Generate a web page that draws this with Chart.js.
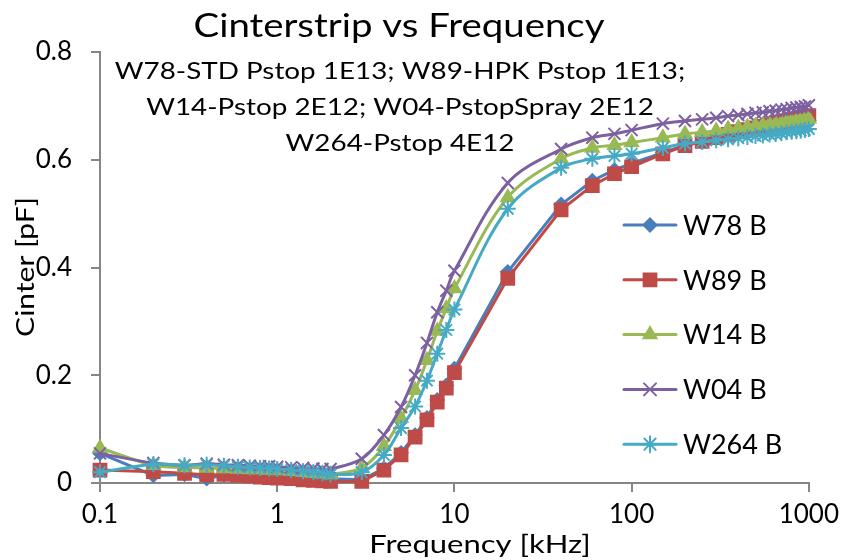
<!DOCTYPE html>
<html>
<head>
<meta charset="utf-8">
<script src="https://cdnjs.cloudflare.com/ajax/libs/Chart.js/4.4.1/chart.umd.js"></script>
<style>
	html, body { margin: 0; padding: 0; background: #fff; }
</style>
</head>
<body>
<canvas id="chart" width="846" height="560"></canvas>
<script>
const FONT = "Lato, 'Open Sans', sans-serif";

// frequency points (kHz)
const freqs = [
	0.1, 0.2, 0.3, 0.4, 0.5, 0.6, 0.7, 0.8, 0.9, 1,
	1.2, 1.4, 1.6, 1.8, 2, 3, 4, 5, 6, 7, 8, 9, 10,
	20, 40, 60, 80, 100, 150, 200, 250, 300, 350, 400, 450, 500,
	550, 600, 650, 700, 750, 800, 850, 900, 950, 1000,
];

// Cinter [pF] per sample
const w78 = [
	0.055, 0.014, 0.016, 0.008, 0.015, 0.014, 0.013, 0.013, 0.012, 0.012,
	0.011, 0.010, 0.009, 0.008, 0.008, 0.006, 0.027, 0.056, 0.089, 0.121, 0.154, 0.181, 0.212,
	0.392, 0.517, 0.561, 0.581, 0.593, 0.613, 0.627, 0.634, 0.640, 0.645, 0.649, 0.652, 0.655,
	0.657, 0.659, 0.661, 0.663, 0.665, 0.667, 0.668, 0.670, 0.671, 0.673,
];
const w89 = [
	0.024, 0.021, 0.018, 0.015, 0.016, 0.014, 0.013, 0.011, 0.010, 0.009,
	0.008, 0.006, 0.005, 0.004, 0.003, 0.003, 0.024, 0.052, 0.085, 0.117, 0.150, 0.176, 0.205,
	0.380, 0.507, 0.552, 0.574, 0.587, 0.611, 0.626, 0.634, 0.641, 0.647, 0.652, 0.656, 0.659,
	0.662, 0.665, 0.668, 0.670, 0.672, 0.674, 0.676, 0.678, 0.680, 0.682,
];
const w14 = [
	0.065, 0.033, 0.029, 0.028, 0.027, 0.026, 0.025, 0.025, 0.024, 0.023,
	0.022, 0.020, 0.018, 0.017, 0.016, 0.028, 0.068, 0.120, 0.172, 0.228, 0.282, 0.324, 0.361,
	0.530, 0.602, 0.622, 0.627, 0.632, 0.641, 0.648, 0.651, 0.654, 0.657, 0.659, 0.661, 0.663,
	0.664, 0.666, 0.667, 0.668, 0.670, 0.671, 0.672, 0.673, 0.674, 0.676,
];
const w04 = [
	0.055, 0.037, 0.033, 0.036, 0.034, 0.033, 0.032, 0.031, 0.031, 0.030,
	0.029, 0.028, 0.027, 0.026, 0.026, 0.045, 0.089, 0.141, 0.200, 0.260, 0.317, 0.357, 0.394,
	0.557, 0.620, 0.641, 0.648, 0.655, 0.667, 0.672, 0.675, 0.678, 0.681, 0.683, 0.685, 0.687,
	0.688, 0.690, 0.691, 0.693, 0.694, 0.696, 0.697, 0.698, 0.699, 0.701,
];
const w264 = [
	0.020, 0.035, 0.033, 0.034, 0.032, 0.030, 0.029, 0.028, 0.027, 0.026,
	0.024, 0.022, 0.020, 0.018, 0.016, 0.020, 0.052, 0.102, 0.142, 0.190, 0.240, 0.284, 0.322,
	0.509, 0.585, 0.602, 0.607, 0.611, 0.622, 0.630, 0.633, 0.636, 0.638, 0.640, 0.642, 0.644,
	0.645, 0.647, 0.648, 0.649, 0.651, 0.652, 0.653, 0.654, 0.655, 0.657,
];

const seriesNames = ["W78 B", "W89 B", "W14 B", "W04 B", "W264 B"];
const seriesValues = [w78, w89, w14, w04, w264];
const seriesColors = ["#4A7EBB", "#BE4B48", "#98B954", "#7D60A0", "#46AAC5"];

const xTicks = [0.1, 1, 10, 100, 1000];
const yTicks = [0, 0.2, 0.4, 0.6, 0.8];

const chartTitle = "Cinterstrip vs Frequency";
const noteLines = [
	"W78-STD Pstop 1E13; W89-HPK Pstop 1E13;",
	"W14-Pstop 2E12; W04-PstopSpray 2E12",
	"W264-Pstop 4E12",
];
const xTitle = "Frequency [kHz]";
const yTitle = "Cinter [pF]";

// marker looks, in series order
const markerStyle = ["rectRot", "rect", "triangle", "crossRot", "star"];
const markerRadius = [6.5, 9, 7.5, 8.5, 8];
const smooth = [0, 0, 0.35, 0.35, 0.35];

const AXIS_GREY = "#868686";

const datasets = seriesNames.map((name, i) => ({
	label: name,
	data: freqs.map((f, j) => ({ x: f, y: seriesValues[i][j] })),
	borderColor: seriesColors[i],
	backgroundColor: seriesColors[i],
	borderWidth: 3,
	pointStyle: markerStyle[i],
	pointRadius: markerRadius[i],
	pointBorderWidth: 2,
	tension: smooth[i],
	clip: false,
	order: seriesNames.length - i, // later series drawn on top, like the original
}));

// the original's text is a little wide for its height, so stretch it sideways
function wideText(ctx, text, x, y, size, stretch, angle) {
	ctx.save();
	ctx.translate(x, y);
	if (angle) ctx.rotate(angle);
	ctx.scale(stretch, 1);
	ctx.font = size + "px " + FONT;
	ctx.fillText(text, 0, 0);
	ctx.restore();
}

// title, note block, axis titles and legend are painted here so they sit
// exactly where the original puts them
const overlay = {
	id: "overlay",
	afterDraw(chart) {
		const ctx = chart.ctx;
		ctx.save();
		ctx.fillStyle = "#000";
		ctx.textAlign = "center";
		ctx.textBaseline = "alphabetic";

		wideText(ctx, chartTitle, 399, 37, 32, 1.2);
		noteLines.forEach((t, k) => wideText(ctx, t, 400, 79 + k * 36, 23, 1.21));
		wideText(ctx, xTitle, 480, 553, 25, 1.24);
		wideText(ctx, yTitle, 34, 267, 25, 1.2, -Math.PI / 2);

		// legend
		ctx.textAlign = "left";
		ctx.textBaseline = "middle";
		ctx.font = "27px " + FONT;
		chart.data.datasets.forEach((ds, i) => {
			const y = 225 + i * 54.8;
			ctx.strokeStyle = ds.borderColor;
			ctx.lineWidth = 3;
			ctx.lineCap = "round";
			ctx.beginPath();
			ctx.moveTo(624, y);
			ctx.lineTo(676, y);
			ctx.stroke();
			ctx.fillStyle = ds.backgroundColor;
			ctx.lineWidth = 2;
			Chart.helpers.drawPoint(ctx, { pointStyle: ds.pointStyle, radius: ds.pointRadius, rotation: 0, borderWidth: 2 }, 650, y);
			ctx.fillStyle = "#000";
			ctx.fillText(ds.label, 683, y + 1);
		});
		ctx.restore();
	},
};

new Chart(document.getElementById("chart"), {
	type: "line",
	data: { datasets },
	plugins: [overlay],
	options: {
		responsive: false,
		animation: false,
		devicePixelRatio: 1,
		layout: { padding: { top: 52, right: 31, left: 0, bottom: 0 } },
		plugins: {
			legend: { display: false },
			title: { display: false },
			tooltip: { enabled: false },
		},
		scales: {
			x: {
				type: "logarithmic",
				min: 0.1,
				max: 1000,
				afterBuildTicks: (s) => {
					s.ticks = xTicks.map((v) => ({ value: v }));
				},
				afterFit: (s) => {
					s.height = 77;
				},
				grid: { drawOnChartArea: false, tickLength: 9, color: AXIS_GREY, lineWidth: 2 },
				border: { color: AXIS_GREY, width: 2 },
				ticks: {
					color: "#000",
					font: { family: FONT, size: 26 },
					padding: 7,
					autoSkip: false,
					maxRotation: 0,
					callback: (v) => String(v),
				},
			},
			y: {
				min: 0,
				max: 0.8,
				afterBuildTicks: (s) => {
					s.ticks = yTicks.map((v) => ({ value: v }));
				},
				afterFit: (s) => {
					s.width = 100;
				},
				grid: { drawOnChartArea: false, tickLength: 9, color: AXIS_GREY, lineWidth: 2 },
				border: { color: AXIS_GREY, width: 2 },
				ticks: {
					color: "#000",
					font: { family: FONT, size: 26 },
					padding: 19,
					callback: (v) => String(+v.toFixed(1)),
				},
			},
		},
	},
});
</script>
</body>
</html>
